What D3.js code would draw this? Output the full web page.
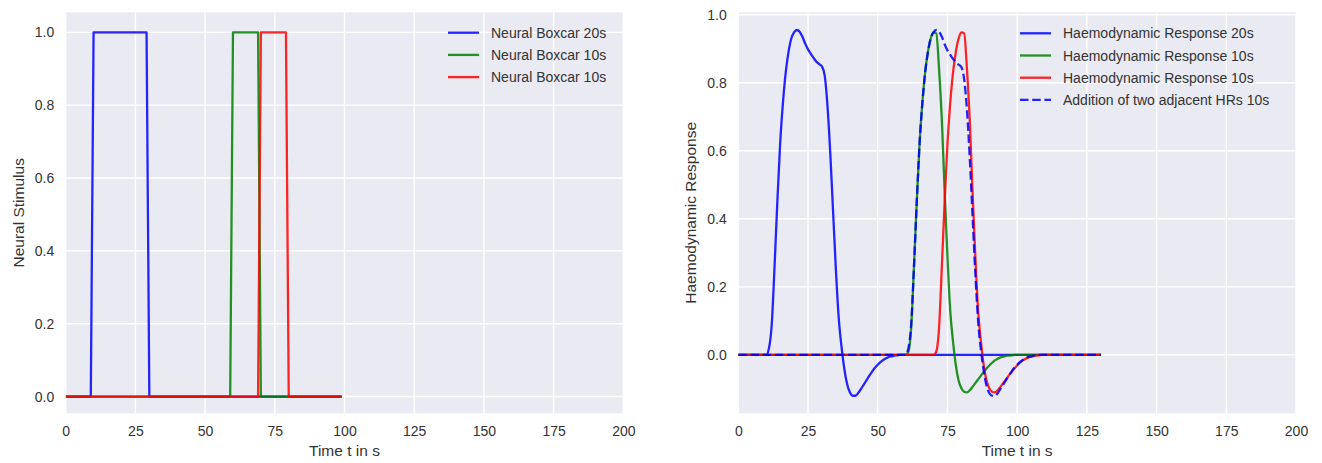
<!DOCTYPE html>
<html>
<head>
<meta charset="utf-8">
<script src="https://cdn.jsdelivr.net/npm/d3@7"></script>
<style>
  html, body { margin: 0; padding: 0; background: #ffffff; }
  svg { display: block; font-family: "Liberation Sans", Arial, sans-serif; }
</style>
</head>
<body>
<svg id="chart" width="1322" height="463"></svg>
<script>
// ---- Neural stimulus (boxcars sampled once per second, 0..99 s) ----
const boxcar20Times = [0, 9, 10, 29, 30, 99];
const boxcar20Vals  = [0, 0, 1, 1, 0, 0];
const boxcarATimes  = [0, 59, 60, 69, 70, 99];
const boxcarAVals   = [0, 0, 1, 1, 0, 0];
const boxcarBTimes  = [0, 69, 70, 79, 80, 99];
const boxcarBVals   = [0, 0, 1, 1, 0, 0];

// ---- Haemodynamic responses (0..130 s) ----
const hr20Times = [0, 10, 11, 12, 13, 14, 15, 16, 17, 18, 19, 20, 21, 22, 23, 24, 25, 26, 27, 28, 29, 30,
  31, 32, 33, 34, 35, 36, 37, 38, 39, 40, 41, 42, 43, 44, 45, 46, 47, 48, 49, 50, 51, 52, 53, 54, 55, 56, 57, 58, 130];
const hr20Vals = [0, 0, 0.02, 0.09, 0.26, 0.45, 0.62, 0.74, 0.83, 0.89, 0.93, 0.948, 0.955, 0.95, 0.935, 0.915, 0.898, 0.885, 0.873, 0.862, 0.855, 0.848,
  0.82, 0.73, 0.59, 0.42, 0.25, 0.11, 0.025, -0.04, -0.085, -0.11, -0.12, -0.12, -0.112, -0.1, -0.087, -0.074, -0.061, -0.049, -0.038, -0.029, -0.021, -0.015, -0.01, -0.006, -0.004, -0.002, -0.001, 0, 0];

const hrATimes = [0, 60, 61, 62, 63, 64, 65, 66, 67, 68, 69, 70, 71, 72, 73, 74, 75, 76, 77, 78, 79, 80,
  81, 82, 83, 84, 85, 86, 87, 88, 89, 90, 91, 92, 93, 94, 95, 96, 97, 98, 99, 130];
const hrAVals = [0, 0, 0.01, 0.08, 0.26, 0.45, 0.62, 0.74, 0.83, 0.89, 0.93, 0.948, 0.945, 0.84, 0.69, 0.48, 0.29, 0.13, 0.04, -0.03, -0.075, -0.098,
  -0.108, -0.11, -0.104, -0.094, -0.083, -0.072, -0.061, -0.05, -0.04, -0.031, -0.023, -0.016, -0.011, -0.007, -0.005, -0.003, -0.002, -0.001, 0, 0];

const hrBTimes = [0, 70, 71, 72, 73, 74, 75, 76, 77, 78, 79, 80, 81, 82, 83, 84, 85, 86, 87, 88, 89, 90,
  91, 92, 93, 94, 95, 96, 97, 98, 99, 100, 101, 102, 103, 104, 105, 106, 107, 108, 109, 130];
const hrBVals = [0, 0, 0.01, 0.08, 0.26, 0.45, 0.62, 0.74, 0.83, 0.89, 0.93, 0.948, 0.945, 0.84, 0.69, 0.48, 0.29, 0.13, 0.04, -0.03, -0.075, -0.098,
  -0.108, -0.11, -0.104, -0.094, -0.083, -0.072, -0.061, -0.05, -0.04, -0.031, -0.023, -0.016, -0.011, -0.007, -0.005, -0.003, -0.002, -0.001, 0, 0];

const hrSumTimes = [0, 60, 61, 62, 63, 64, 65, 66, 67, 68, 69, 70, 71, 72, 73, 74, 75, 76, 77, 78, 79, 80,
  81, 82, 83, 84, 85, 86, 87, 88, 89, 90, 91, 92, 93, 94, 95, 96, 97, 98, 99, 100, 101, 102, 103, 104, 105, 106, 107, 108, 130];
const hrSumVals = [0, 0, 0.02, 0.09, 0.26, 0.45, 0.62, 0.74, 0.83, 0.89, 0.93, 0.948, 0.955, 0.95, 0.935, 0.913, 0.895, 0.882, 0.87, 0.86, 0.853, 0.846,
  0.81, 0.72, 0.58, 0.41, 0.24, 0.10, 0.015, -0.045, -0.09, -0.112, -0.12, -0.121, -0.113, -0.1, -0.087, -0.074, -0.061, -0.049, -0.038, -0.029, -0.021, -0.015, -0.01, -0.006, -0.004, -0.002, -0.001, 0, 0];

// ---- Axis ticks and labels ----
const xTicks = [0, 25, 50, 75, 100, 125, 150, 175, 200];
const yTicks = [0.0, 0.2, 0.4, 0.6, 0.8, 1.0];
const leftLegend  = ["Neural Boxcar 20s", "Neural Boxcar 10s", "Neural Boxcar 10s"];
const rightLegend = ["Haemodynamic Response 20s", "Haemodynamic Response 10s", "Haemodynamic Response 10s", "Addition of two adjacent HRs 10s"];

const BLUE = "#0000ff", GREEN = "#008000", RED = "#ff0000";
const TEXT = "#333333";

const svg = d3.select("#chart");

function zip(ts, vs) { return ts.map((t, i) => ({ t, v: vs[i] })); }

function panel(cfg) {
  const x = d3.scaleLinear().domain([0, 200]).range([cfg.x0, cfg.x1]);
  const y = d3.scaleLinear().domain(cfg.yDomain).range([cfg.y1, cfg.y0]);
  const g = svg.append("g");

  g.append("rect")
    .attr("x", cfg.x0).attr("y", cfg.y0)
    .attr("width", cfg.x1 - cfg.x0).attr("height", cfg.y1 - cfg.y0)
    .attr("fill", "#EAEAF2");

  // grid
  const clipId = cfg.id + "-clip";
  svg.append("clipPath").attr("id", clipId).append("rect")
    .attr("x", cfg.x0).attr("y", cfg.y0)
    .attr("width", cfg.x1 - cfg.x0).attr("height", cfg.y1 - cfg.y0);

  const grid = g.append("g").attr("stroke", "#ffffff").attr("stroke-width", 1.4);
  grid.selectAll("line.v").data(xTicks).join("line")
    .attr("x1", d => x(d)).attr("x2", d => x(d))
    .attr("y1", cfg.y0).attr("y2", cfg.y1);
  grid.selectAll("line.h").data(yTicks.filter(d => d >= cfg.yDomain[0] && d <= cfg.yDomain[1])).join("line")
    .attr("x1", cfg.x0).attr("x2", cfg.x1)
    .attr("y1", d => y(d)).attr("y2", d => y(d));

  // axes (labels only, seaborn-style: no spines or tick marks)
  const xAxis = d3.axisBottom(x).tickValues(xTicks).tickSize(0).tickPadding(0).tickFormat(d3.format("d"));
  const xg = g.append("g").attr("transform", `translate(0,${cfg.y1})`).call(xAxis);
  xg.select(".domain").remove();
  xg.selectAll("text").attr("y", 22.5).attr("dy", null).attr("fill", TEXT)
    .attr("font-size", 14).attr("font-family", "Liberation Sans, Arial, sans-serif");

  const yAxis = d3.axisLeft(y).tickValues(yTicks).tickSize(0).tickPadding(11.5).tickFormat(d3.format(".1f"));
  const yg = g.append("g").attr("transform", `translate(${cfg.x0},0)`).call(yAxis);
  yg.select(".domain").remove();
  yg.selectAll("text").attr("fill", TEXT).attr("font-size", 14)
    .attr("font-family", "Liberation Sans, Arial, sans-serif");

  g.append("text")
    .attr("x", (cfg.x0 + cfg.x1) / 2).attr("y", 456)
    .attr("text-anchor", "middle").attr("fill", TEXT).attr("font-size", 15.5)
    .text("Time t in s");

  g.append("text")
    .attr("transform", `translate(${cfg.x0 - 42},${(cfg.y0 + cfg.y1) / 2}) rotate(-90)`)
    .attr("text-anchor", "middle").attr("fill", TEXT).attr("font-size", 15.5)
    .text(cfg.ylabel);

  const plot = g.append("g").attr("clip-path", `url(#${clipId})`);
  return { x, y, g, plot };
}

function drawSeries(p, data, color, dash, curve) {
  const line = d3.line().x(d => p.x(d.t)).y(d => p.y(d.v)).curve(curve);
  p.plot.append("path")
    .datum(data)
    .attr("d", line)
    .attr("fill", "none")
    .attr("stroke", color)
    .attr("stroke-width", 2.3)
    .attr("stroke-opacity", 0.85)
    .attr("stroke-linejoin", "round")
    .attr("stroke-dasharray", dash || null);
}

function legend(p, x0, yStart, items) {
  const lg = p.g.append("g");
  items.forEach((it, i) => {
    const yy = yStart + i * 22.2;
    lg.append("line")
      .attr("x1", x0).attr("x2", x0 + 31)
      .attr("y1", yy).attr("y2", yy)
      .attr("stroke", it.color).attr("stroke-width", 2.3).attr("stroke-opacity", 0.85)
      .attr("stroke-dasharray", it.dash || null);
    lg.append("text")
      .attr("x", x0 + 43).attr("y", yy + 5)
      .attr("fill", TEXT).attr("font-size", 14)
      .text(it.label);
  });
}

// ---- Left: neural stimulus ----
const left = panel({ id: "left", x0: 65.7, x1: 623.3, y0: 12.3, y1: 413.3, yDomain: [-0.046, 1.055], ylabel: "Neural Stimulus" });
drawSeries(left, zip(boxcar20Times, boxcar20Vals), BLUE, null, d3.curveLinear);
drawSeries(left, zip(boxcarATimes, boxcarAVals), GREEN, null, d3.curveLinear);
drawSeries(left, zip(boxcarBTimes, boxcarBVals), RED, null, d3.curveLinear);
legend(left, 448, 32.7, [
  { label: leftLegend[0], color: BLUE },
  { label: leftLegend[1], color: GREEN },
  { label: leftLegend[2], color: RED }
]);

// ---- Right: haemodynamic response ----
const right = panel({ id: "right", x0: 738.3, x1: 1296, y0: 12.3, y1: 413.3, yDomain: [-0.1716, 1.007], ylabel: "Haemodynamic Response" });
drawSeries(right, zip(hr20Times, hr20Vals), BLUE, null, d3.curveMonotoneX);
drawSeries(right, zip(hrATimes, hrAVals), GREEN, null, d3.curveMonotoneX);
drawSeries(right, zip(hrBTimes, hrBVals), RED, null, d3.curveMonotoneX);
drawSeries(right, zip(hrSumTimes, hrSumVals), BLUE, "8.5,3.7", d3.curveMonotoneX);
legend(right, 1020, 33.3, [
  { label: rightLegend[0], color: BLUE },
  { label: rightLegend[1], color: GREEN },
  { label: rightLegend[2], color: RED },
  { label: rightLegend[3], color: BLUE, dash: "8.5,3.7" }
]);
</script>
</body>
</html>
